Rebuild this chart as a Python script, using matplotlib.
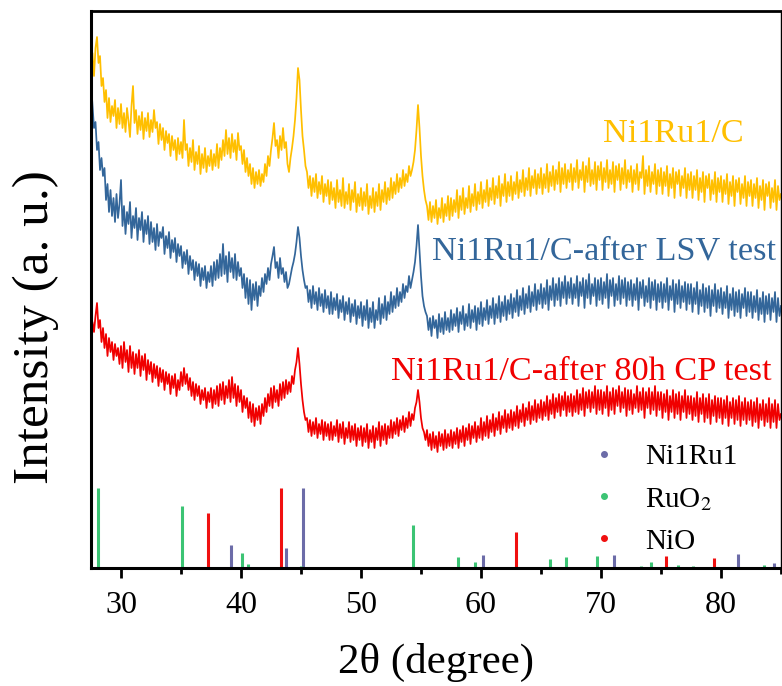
import numpy as np
import matplotlib
matplotlib.use("Agg")
import matplotlib.pyplot as plt
from matplotlib.lines import Line2D

plt.rcParams['font.family'] = ['Liberation Serif', 'DejaVu Serif']
plt.rcParams['mathtext.fontset'] = 'stix'

# 2theta sampling, 0.125 deg steps from 27.5 to 85 (one row = 2.5 deg)
two_theta = np.linspace(27.5, 85.0, 461)

# Ni1Ru1/C (arbitrary units)
ni1ru1_c = [
    498, 515, 492, 520, 531, 505, 512, 482, 490, 466, 478, 450, 470, 446, 462, 452, 468, 440, 460, 444,
    464, 440, 455, 436, 460, 447, 431, 462, 482, 445, 458, 434, 452, 438, 456, 429, 450, 437, 455, 431,
    448, 436, 458, 440, 446, 424, 444, 428, 440, 418, 437, 425, 434, 412, 432, 418, 428, 408, 430, 414,
    426, 410, 448, 418, 424, 402, 420, 406, 428, 398, 416, 404, 422, 394, 414, 400, 420, 396, 412, 402,
    418, 398, 414, 402, 424, 400, 420, 408, 428, 412, 438, 414, 430, 410, 434, 416, 428, 408, 435, 418,
    422, 404, 418, 396, 410, 392, 404, 384, 400, 380, 396, 384, 398, 382, 394, 386, 404, 392, 412, 402,
    418, 430, 445, 422, 428, 410, 432, 418, 440, 420, 426, 404, 396, 410, 420, 432, 448, 470, 500, 488,
    458, 432, 418, 402, 396, 380, 392, 372, 390, 376, 394, 370, 386, 374, 392, 366, 384, 372, 388, 364,
    386, 368, 380, 360, 388, 366, 378, 362, 390, 360, 376, 364, 384, 358, 378, 366, 386, 356, 374, 362,
    380, 358, 376, 362, 384, 354, 372, 360, 380, 356, 376, 362, 384, 358, 378, 366, 386, 364, 380, 368,
    390, 370, 386, 374, 394, 376, 390, 380, 398, 382, 394, 386, 402, 392, 398, 406, 418, 438, 463, 440,
    412, 392, 378, 368, 362, 348, 366, 346, 362, 350, 368, 344, 360, 350, 370, 346, 364, 352, 372, 348,
    370, 352, 368, 356, 378, 350, 372, 358, 380, 354, 370, 360, 382, 356, 374, 362, 384, 358, 376, 364,
    386, 360, 378, 366, 388, 362, 380, 368, 390, 364, 382, 370, 392, 362, 384, 372, 394, 366, 386, 372,
    392, 368, 386, 374, 396, 370, 388, 376, 398, 372, 390, 378, 400, 372, 392, 380, 398, 374, 394, 380,
    400, 374, 394, 380, 404, 376, 396, 382, 402, 378, 398, 384, 406, 376, 400, 384, 404, 380, 398, 386,
    404, 378, 400, 386, 408, 380, 398, 388, 406, 376, 402, 386, 410, 382, 398, 384, 406, 378, 402, 388,
    406, 378, 400, 386, 408, 380, 398, 384, 406, 376, 402, 388, 404, 378, 400, 384, 408, 380, 398, 386,
    402, 376, 398, 384, 404, 378, 396, 390, 412, 374, 398, 382, 402, 376, 396, 384, 404, 374, 398, 382,
    400, 374, 396, 382, 402, 372, 394, 380, 400, 370, 396, 384, 398, 372, 392, 380, 400, 370, 394, 378,
    396, 370, 392, 378, 398, 368, 390, 376, 396, 366, 392, 380, 394, 368, 388, 374, 396, 366, 390, 376,
    392, 366, 388, 374, 394, 364, 386, 372, 392, 362, 388, 376, 390, 364, 384, 370, 392, 362, 386, 372,
    388, 362, 384, 370, 390, 360, 382, 368, 388, 358, 384, 372, 386, 360, 380, 366, 388, 358, 382, 368,
    374,
]

# Ni1Ru1/C after LSV test
after_lsv = [
    485, 462, 440, 446, 418, 426, 398, 410, 392, 400, 368, 384, 356, 378, 352, 370, 346, 374, 350, 364,
    388, 342, 362, 334, 356, 344, 366, 330, 352, 340, 360, 328, 350, 338, 356, 326, 348, 334, 352, 324,
    346, 326, 340, 318, 344, 322, 336, 330, 341, 314, 332, 320, 336, 310, 328, 316, 330, 306, 324, 312,
    322, 300, 316, 304, 318, 294, 312, 298, 308, 288, 306, 292, 304, 282, 300, 288, 302, 280, 296, 286,
    302, 282, 306, 288, 308, 290, 314, 292, 324, 294, 312, 286, 316, 296, 310, 290, 314, 288, 306, 292,
    300, 280, 294, 270, 290, 264, 288, 258, 284, 268, 286, 262, 282, 272, 290, 276, 294, 284, 300, 288,
    304, 312, 321, 300, 306, 290, 310, 294, 300, 286, 296, 280, 284, 292, 300, 306, 314, 326, 341, 330,
    312, 298, 288, 280, 282, 266, 278, 260, 282, 264, 276, 258, 280, 262, 274, 256, 278, 260, 272, 254,
    276, 254, 270, 258, 274, 250, 268, 256, 272, 248, 266, 254, 270, 246, 264, 252, 268, 244, 262, 250,
    266, 242, 262, 248, 268, 240, 260, 246, 266, 240, 258, 248, 270, 244, 264, 250, 272, 248, 266, 254,
    276, 256, 272, 260, 280, 262, 276, 266, 284, 270, 282, 276, 292, 280, 288, 296, 306, 322, 343, 318,
    292, 272, 262, 256, 252, 238, 250, 232, 252, 240, 248, 230, 254, 236, 250, 234, 256, 238, 250, 236,
    258, 238, 254, 242, 260, 236, 256, 244, 262, 238, 254, 242, 264, 240, 258, 246, 262, 238, 260, 244,
    266, 242, 260, 248, 268, 244, 262, 250, 270, 244, 264, 250, 272, 246, 266, 252, 272, 248, 268, 254,
    274, 250, 270, 256, 278, 252, 272, 258, 280, 254, 274, 260, 282, 256, 276, 262, 284, 258, 278, 264,
    284, 260, 280, 264, 288, 258, 282, 268, 290, 262, 284, 268, 290, 262, 286, 270, 292, 264, 286, 270,
    290, 264, 284, 270, 292, 262, 286, 272, 290, 260, 288, 270, 294, 264, 284, 272, 290, 262, 288, 268,
    290, 264, 286, 270, 294, 260, 288, 272, 290, 262, 284, 268, 292, 264, 288, 270, 290, 262, 286, 268,
    288, 262, 284, 268, 290, 258, 286, 270, 288, 262, 282, 266, 290, 260, 286, 268, 288, 258, 284, 266,
    286, 260, 284, 266, 290, 258, 282, 268, 288, 256, 284, 264, 288, 260, 282, 266, 286, 258, 284, 264,
    284, 256, 280, 264, 286, 254, 278, 262, 284, 256, 280, 260, 282, 252, 278, 262, 284, 256, 278, 260,
    280, 254, 276, 260, 282, 250, 274, 258, 280, 252, 276, 256, 278, 250, 274, 260, 280, 252, 276, 256,
    276, 250, 272, 256, 278, 248, 270, 254, 276, 246, 272, 254, 274, 248, 270, 256, 276, 246, 270, 252,
    262,
]

# Ni1Ru1/C after 80h CP test
after_cp = [
    228, 246, 236, 252, 265, 240, 248, 226, 240, 220, 234, 212, 230, 216, 226, 208, 224, 212, 220, 204,
    222, 200, 226, 206, 218, 196, 222, 200, 216, 194, 214, 200, 218, 192, 212, 198, 214, 188, 208, 194,
    206, 186, 204, 190, 202, 182, 200, 186, 198, 178, 196, 184, 194, 174, 192, 180, 194, 172, 188, 178,
    196, 182, 200, 184, 194, 178, 190, 172, 186, 168, 184, 172, 182, 164, 178, 168, 180, 160, 176, 166,
    180, 160, 178, 164, 182, 162, 184, 168, 186, 164, 182, 170, 188, 166, 191, 170, 184, 162, 182, 166,
    178, 156, 172, 160, 170, 150, 166, 146, 164, 142, 160, 148, 162, 144, 164, 152, 170, 156, 174, 162,
    180, 160, 182, 166, 178, 162, 184, 168, 186, 170, 188, 174, 186, 176, 192, 184, 198, 206, 220, 204,
    184, 168, 156, 148, 150, 136, 148, 132, 146, 134, 150, 130, 144, 134, 148, 128, 146, 132, 144, 128,
    146, 128, 142, 132, 148, 126, 144, 130, 146, 124, 140, 130, 146, 126, 142, 128, 144, 122, 140, 128,
    142, 122, 140, 126, 144, 120, 138, 126, 142, 120, 140, 128, 146, 122, 142, 128, 144, 124, 142, 130,
    148, 130, 146, 134, 150, 132, 148, 138, 152, 136, 150, 140, 156, 142, 154, 148, 160, 166, 178, 166,
    150, 140, 136, 128, 138, 122, 134, 118, 136, 120, 132, 116, 136, 122, 134, 118, 138, 120, 134, 122,
    138, 120, 136, 124, 140, 120, 138, 126, 142, 122, 140, 128, 144, 124, 142, 130, 146, 126, 142, 130,
    150, 128, 146, 132, 152, 130, 148, 136, 154, 132, 150, 138, 156, 134, 152, 140, 158, 136, 154, 140,
    158, 138, 156, 142, 162, 140, 158, 146, 164, 142, 160, 148, 166, 144, 162, 148, 168, 146, 164, 150,
    168, 148, 166, 152, 172, 148, 168, 154, 174, 150, 170, 156, 174, 152, 172, 158, 176, 152, 172, 156,
    174, 152, 172, 156, 178, 154, 174, 158, 180, 152, 176, 160, 178, 156, 176, 160, 182, 154, 178, 158,
    178, 154, 176, 160, 182, 152, 176, 158, 180, 154, 178, 162, 182, 156, 176, 160, 180, 152, 178, 158,
    178, 154, 174, 160, 182, 156, 176, 158, 180, 150, 176, 160, 180, 154, 176, 158, 182, 152, 176, 158,
    176, 150, 174, 156, 178, 148, 172, 156, 178, 150, 174, 154, 176, 148, 172, 156, 178, 150, 172, 154,
    172, 148, 170, 152, 176, 146, 170, 154, 174, 146, 170, 150, 174, 144, 168, 152, 172, 146, 170, 150,
    170, 144, 168, 150, 172, 142, 166, 150, 170, 144, 168, 148, 172, 142, 166, 148, 170, 144, 166, 148,
    168, 142, 166, 146, 170, 140, 164, 148, 168, 142, 164, 146, 170, 140, 164, 146, 168, 140, 164, 148,
    154,
]

# reference patterns (stick positions and relative heights)
ni1ru1_pos = [39.2, 43.75, 45.15, 60.15, 71.1, 81.45, 84.4]
ni1ru1_h = [23, 20, 80, 13, 13, 14, 5]
ruo2_pos = [28.05, 35.08, 40.1, 40.6, 45.0, 54.35, 58.05, 59.5,
            65.75, 67.05, 69.7, 73.3, 74.2, 76.4, 77.7, 83.6]
ruo2_h = [80, 62, 15, 4, 2, 43, 11, 6, 9, 11, 12, 2, 6, 3, 2, 3]
nio_pos = [37.25, 43.3, 62.95, 75.45, 79.45]
nio_h = [55, 80, 36, 12, 10]

c_orange = '#FFBF00'
c_blue = '#33669A'
c_red = '#F00000'
c_ni1ru1 = '#6C6CA8'
c_ruo2 = '#3CC474'
c_nio = '#F01010'

fig = plt.figure(figsize=(7.82, 6.86), dpi=100)
ax = fig.add_axes([91 / 782, 118 / 686, 690 / 782, 557 / 686])

ax.plot(two_theta, ni1ru1_c, color=c_orange, lw=1.25)
ax.plot(two_theta, after_lsv, color=c_blue, lw=1.25)
ax.plot(two_theta, after_cp, color=c_red, lw=1.25)

ax.vlines(ni1ru1_pos, 0, ni1ru1_h, color=c_ni1ru1, lw=2.2)
ax.vlines(ruo2_pos, 0, ruo2_h, color=c_ruo2, lw=2.2)
ax.vlines(nio_pos, 0, nio_h, color=c_nio, lw=2.2)

ax.text(81.9, 426, 'Ni1Ru1/C', color=c_orange, fontsize=24.7, ha='right', va='baseline')
ax.text(84.6, 308, 'Ni1Ru1/C-after LSV test', color=c_blue, fontsize=24.7,
        ha='right', va='baseline')
ax.text(84.2, 188, 'Ni1Ru1/C-after 80h CP test', color=c_red, fontsize=24.7,
        ha='right', va='baseline')

handles = [
    Line2D([], [], marker='o', ls='none', color=c_ni1ru1, markersize=4),
    Line2D([], [], marker='o', ls='none', color=c_ruo2, markersize=4),
    Line2D([], [], marker='o', ls='none', color=c_nio, markersize=4),
]
ax.legend(handles, ['Ni1Ru1', 'RuO$_2$', 'NiO'], loc='upper left',
          bbox_to_anchor=(0.701, 0.249), frameon=False, fontsize=21,
          handlelength=1.0, handletextpad=0.9, labelspacing=0.53,
          borderpad=0)

ax.set_xlim(27.5, 85)
ax.set_ylim(0, 557)
ax.set_xticks([30, 40, 50, 60, 70, 80])
ax.set_xticks([35, 45, 55, 65, 75, 85], minor=True)
ax.set_yticks([])
ax.tick_params(axis='x', which='major', direction='out', length=7.5, width=2,
               labelsize=23, pad=9)
ax.tick_params(axis='x', which='minor', direction='out', length=4.5, width=2)

for side in ['left', 'bottom']:
    ax.spines[side].set_linewidth(2.2)
ax.spines['top'].set_linewidth(2.0)
ax.spines['right'].set_linewidth(1.0)

fig.text(436.5 / 782, 13 / 686, '2θ (degree)', fontsize=31,
         ha='center', va='baseline')
fig.text(36 / 782, 1 - 327 / 686, 'Intensity (a. u.)', fontsize=37,
         rotation=90, ha='center', va='center')

fig.savefig('out.png', dpi=100)
